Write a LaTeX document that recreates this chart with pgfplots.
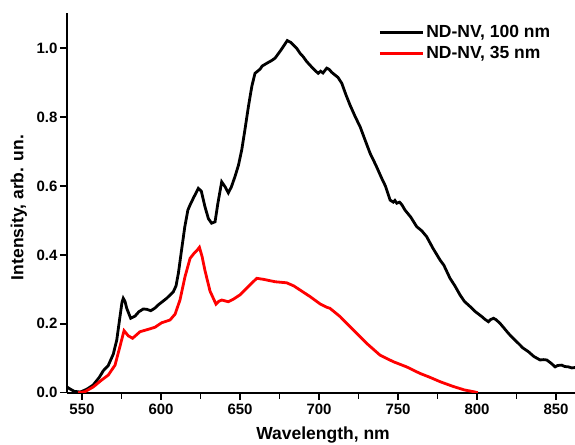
\documentclass[border=0pt]{standalone}
\usepackage{pgfplots}
\pgfplotsset{compat=1.18}
\usepackage{pgfplotstable}
\usepackage{fontspec}
\setmainfont{Liberation Sans}

% black: ND-NV 100 nm
\pgfplotstableread{
x y
540 0.018
542 0.012
545 0.004
549 0.002
553 0.010
557 0.022
561 0.045
563.5 0.064
566.5 0.078
569.8 0.112
572 0.153
574 0.22
575.3 0.262
576.1 0.274
577.2 0.265
578.3 0.245
580.8 0.216
583.5 0.222
586 0.235
588.8 0.243
591 0.242
593.5 0.238
596 0.245
598.3 0.255
603.6 0.274
607.8 0.293
609.5 0.31
611 0.347
613 0.414
615 0.48
617 0.53
618.4 0.545
620.5 0.565
623.6 0.593
625.5 0.585
627.8 0.54
630 0.505
632 0.492
634.2 0.496
636 0.55
638.4 0.612
640.5 0.598
642.6 0.58
644.5 0.597
646.8 0.627
649 0.66
651.1 0.705
653 0.76
655.3 0.83
657.5 0.89
659.5 0.927
662.7 0.939
664 0.948
666.9 0.956
670 0.964
672.2 0.971
676 0.995
679.9 1.022
682 1.017
685.8 1.0
688 0.985
690 0.975
692.2 0.961
695 0.947
697.5 0.935
699.5 0.927
701 0.933
702.5 0.928
704.9 0.942
706.5 0.938
708 0.93
710.1 0.922
712 0.915
714.4 0.898
717 0.865
719.6 0.835
723 0.8
726 0.772
729 0.735
732.3 0.695
736 0.66
739.7 0.622
742 0.6
745 0.559
747 0.553
748 0.558
749.2 0.55
751 0.553
752.5 0.545
754.4 0.53
758 0.51
761.8 0.482
765 0.47
768.1 0.453
772 0.42
776.6 0.385
779 0.37
782.9 0.332
786 0.31
789.2 0.284
792 0.265
795.6 0.25
799 0.235
803 0.221
805 0.213
807.2 0.206
808.5 0.212
810.4 0.216
812 0.212
814.6 0.201
817 0.188
819.9 0.172
823 0.157
826.2 0.143
829 0.13
832.5 0.119
836 0.105
839.9 0.095
842 0.096
844.1 0.095
847 0.085
849.4 0.075
851 0.079
853.6 0.080
855.5 0.076
857.8 0.075
860 0.072
862 0.073
865 0.072
}\nvhundred

% red: ND-NV 35 nm
\pgfplotstableread{
x y
547.5 0.0
551.9 0.003
557.2 0.017
562.5 0.037
566.6 0.051
570.9 0.08
574 0.134
576.6 0.18
579.3 0.165
582 0.158
584.5 0.168
586.7 0.177
592 0.184
596.2 0.19
600.4 0.203
605.7 0.211
608.9 0.228
612 0.269
615.2 0.337
618.4 0.39
621 0.405
622.6 0.412
624.3 0.422
626 0.395
627.8 0.355
631 0.295
634.8 0.257
636.5 0.265
638.4 0.269
642.6 0.264
646 0.272
650 0.284
656.3 0.313
660.6 0.332
664.8 0.329
668 0.326
672.2 0.322
679.5 0.319
684 0.31
688 0.298
694.3 0.279
700.6 0.258
704.9 0.248
706.9 0.245
713.3 0.221
721.7 0.182
730.2 0.143
738.6 0.109
747 0.09
755.4 0.075
763.9 0.056
770 0.045
776.6 0.032
785 0.018
792 0.008
797.7 0.003
800.5 0.0
}\nvthirtyfive

\begin{document}
\begin{tikzpicture}
\useasboundingbox (-67pt,-51.3pt) rectangle (508pt,392.7pt);
\begin{axis}[
    at={(0pt,0pt)}, anchor=south west,
    scale only axis,
    width=508pt, height=379.7pt,
    xmin=540.5, xmax=862,
    ymin=0, ymax=1.102,
    axis x line*=bottom, axis y line*=left,
    axis line style={line width=1.8pt, -},
    xtick={550,600,...,850},
    minor x tick num=1,
    ytick={0,0.2,...,1.0},
    tick align=outside,
    major tick length=7pt, minor tick length=6pt,
    tick style={line width=1.5pt, black},
    /pgf/number format/assume math mode=true,
    tick label style={font=\fontsize{15}{17}\selectfont\bfseries},
    xticklabel style={yshift=-1pt},
    yticklabel style={xshift=1pt, /pgf/number format/fixed, /pgf/number format/fixed zerofill, /pgf/number format/precision=1},
    xlabel={Wavelength, nm},
    ylabel={Intensity, arb. un.},
    xlabel style={font=\fontsize{17.5}{20}\selectfont\bfseries, at={(axis description cs:0.504,0)}, anchor=base, inner sep=0pt, yshift=-47pt},
    ylabel style={font=\fontsize{17.5}{20}\selectfont\bfseries, at={(axis description cs:-0.086,0.488)}, anchor=base, inner sep=0pt},
    legend style={draw=none, fill=none, at={(rel axis cs:0.607,0.978)}, anchor=north west,
        font=\fontsize{17.5}{20}\selectfont\bfseries, row sep=3.5pt},
    legend cell align=left,
    legend image code/.code={\draw[#1] (0pt,0pt) -- (43pt,0pt);},
]
\addplot[black, line width=2.8pt] table[x=x, y=y] {\nvhundred};
\addlegendentry{ND-NV, 100 nm}
\addplot[red, line width=2.8pt] table[x=x, y=y] {\nvthirtyfive};
\addlegendentry{ND-NV, 35 nm}
\end{axis}
\end{tikzpicture}
\end{document}
